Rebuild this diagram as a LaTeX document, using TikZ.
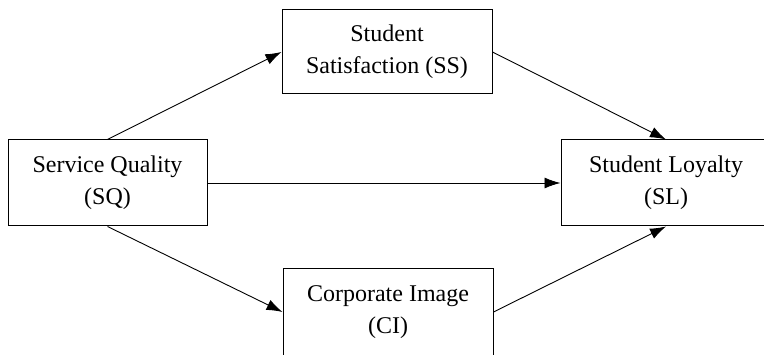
\documentclass[tikz,border=0pt]{standalone}
\usepackage{fontspec}
\setmainfont{Liberation Serif}
\usetikzlibrary{positioning,arrows.meta}
\tikzstyle{var}=[draw, align=center, minimum height=86pt, minimum width=210pt, line width=1pt, font=\fontsize{24}{32}\selectfont]
\tikzstyle{lnk}=[->, line width=0.9pt]

\begin{document}
\begin{tikzpicture}[x=1pt,y=1pt,>={Latex[length=16pt,width=11pt]}]
\useasboundingbox (0,0) rectangle (764,354);
\clip (0,0) rectangle (764,354);

\node[var, minimum width=199pt] at (107.5,171) (sq) {Service Quality\\(SQ)};
\node[var, minimum height=84pt] at (387,302) (ss) {Student\\Satisfaction (SS)};
\node[var] at (666,171) (sl) {Student Loyalty\\(SL)};
\node[var] at (388,42) (ci) {Corporate Image\\(CI)};

\draw[lnk] (sq.north) -- (ss.west);
\draw[lnk] (ss.east) -- (sl.north);
\draw[lnk] (sq.east) -- (sl.west);
\draw[lnk] (sq.south) -- (ci.west);
\draw[lnk] (ci.east) -- (sl.south);
\end{tikzpicture}
\end{document}
